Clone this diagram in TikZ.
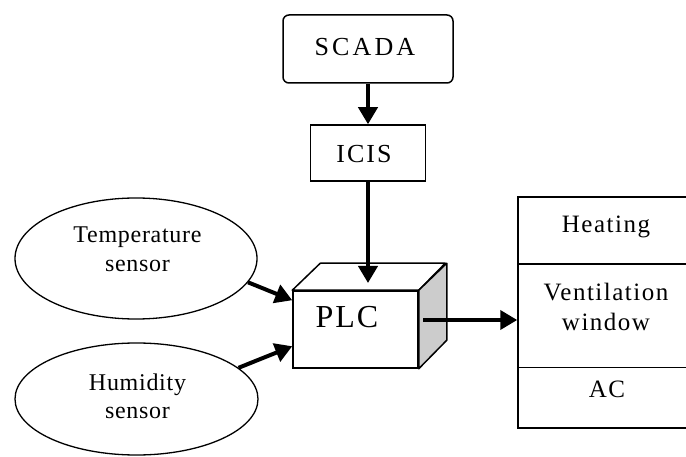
\documentclass[tikz,border=0pt]{standalone}
\usepackage{fontspec}
\setmainfont{Liberation Serif}
\newfontfamily\fscada[LetterSpace=12]{Liberation Serif}
\newfontfamily\ficis[LetterSpace=8]{Liberation Serif}
\newfontfamily\fplc[LetterSpace=6]{Liberation Serif}
\newfontfamily\fdev[LetterSpace=6]{Liberation Serif}
\newfontfamily\fsens[LetterSpace=3]{Liberation Serif}
\usetikzlibrary{arrows.meta,calc,shapes.geometric}
\begin{document}
\begin{tikzpicture}[x=1pt,y=-1pt,
  box/.style={draw,line width=1.5pt,inner sep=0pt},
  oval/.style={draw,ellipse,line width=1.3pt,inner sep=0pt},
  arr/.style={line width=4pt,-{Triangle[length=17pt,width=19pt]}},
  txt/.style={inner sep=0pt},
]
\useasboundingbox (0,0) rectangle (686,457);
\fill[white] (0,0) rectangle (686,457);

% SCADA
\node[box,rounded corners=6pt,minimum width=170pt,minimum height=68pt] (scada) at (368,49) {};
\node[txt,anchor=base,font=\fscada\fontsize{26}{30}\selectfont] (scadat) at (365,56) {SCADA};

% ICIS
\node[box,minimum width=115pt,minimum height=56pt] (icis) at (368,153) {};
\node[txt,anchor=base,font=\ficis\fontsize{26}{30}\selectfont] (icist) at (364,163) {ICIS};

% PLC cube
\node[box,minimum width=125pt,minimum height=77pt] (plc) at (355.5,329.5) {};
\draw[line width=1.5pt,fill=white,line join=round] (plc.north west) -- ++(28,-27) -- ++(125,0) -- (plc.north east) -- cycle;
\draw[line width=1.5pt,fill=black!20,line join=round] (plc.north east) -- ++(28,-27) -- ++(0,77) -- (plc.south east) -- cycle;
\node[txt,anchor=base,font=\fplc\fontsize{32}{36}\selectfont] (plct) at (347,327) {PLC};

% sensors
\node[oval,minimum width=242pt,minimum height=121pt] (temp) at (136,258.5) {};
\node[txt,align=center,font=\fsens\fontsize{24}{29}\selectfont] (tempt) at (137.5,249.5) {Temperature\\sensor};
\node[oval,minimum width=243pt,minimum height=112pt] (hum) at (136.5,399) {};
\node[txt,align=center,font=\fsens\fontsize{24}{28}\selectfont] (humt) at (137.5,396) {Humidity\\sensor};

% devices
\node[box,minimum width=182pt,minimum height=231pt] (dev) at (609,312.5) {};
\draw[line width=1.5pt] ($(dev.north west)+(0,68)$) -- ($(dev.north east)+(0,68)$);
\draw[line width=1.5pt] ($(dev.north west)+(0,171)$) -- ($(dev.north east)+(0,171)$);
\node[txt,anchor=base,font=\fdev\fontsize{25}{30}\selectfont] (heat) at (606,233) {Heating};
\node[txt,align=center,font=\fdev\fontsize{25}{30}\selectfont] (vent) at (606,306.5) {Ventilation\\window};
\node[txt,anchor=base,font=\fdev\fontsize{25}{30}\selectfont] (ac) at (607,397) {AC};

% connectors
\coordinate (plctop) at (368,283);
\coordinate (plcout) at (423,320);
\draw[arr] (scada.south) -- (icis.north);
\draw[arr] (icis.south) -- (plctop);
\draw[arr] (temp.-12) -- ($(plc.north west)+(0,10)$);
\draw[arr] (hum.17) -- ($(plc.north west)+(0,56)$);
\draw[arr] (plcout) -- (dev.west |- plcout);
\end{tikzpicture}
\end{document}
